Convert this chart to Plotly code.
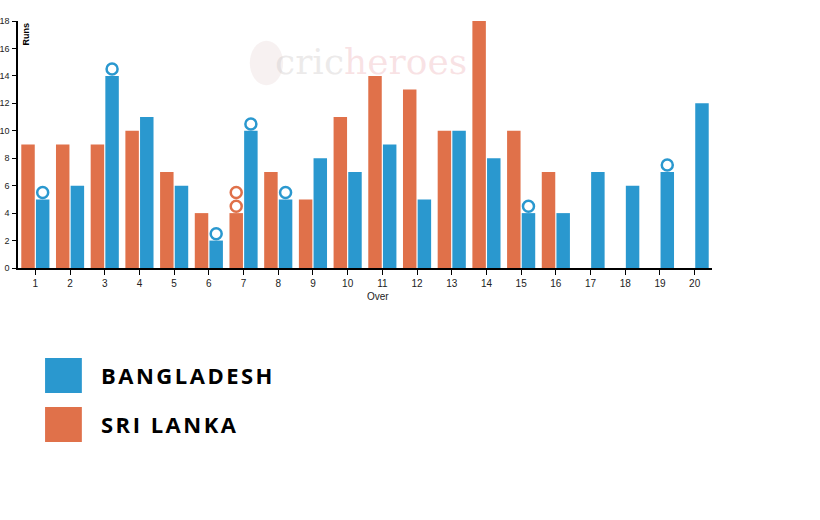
import plotly.graph_objects as go

overs = [str(i) for i in range(1, 21)]
sri_lanka_runs = [9, 9, 9, 10, 7, 4, 4, 7, 5, 11, 14, 13, 10, 18, 10, 7, None, None, None, None]
bangladesh_runs = [5, 6, 14, 11, 6, 2, 10, 5, 8, 7, 9, 5, 10, 8, 4, 4, 7, 6, 7, 12]
# wickets per over (index = over-1)
bangladesh_wickets = [1, 0, 1, 0, 0, 1, 1, 1, 0, 0, 0, 0, 0, 0, 1, 0, 0, 0, 1, 0]
sri_lanka_wickets = [0, 0, 0, 0, 0, 0, 2, 0, 0, 0, 0, 0, 0, 0, 0, 0, 0, 0, 0, 0]

BLUE = "#2A98CF"
ORANGE = "#E0714A"


def wicket_points(runs, wickets):
    xs, ys = [], []
    for o, r, w in zip(overs, runs, wickets):
        for k in range(w):
            xs.append(o)
            ys.append((r or 0) + 0.5 + k)
    return xs, ys


fig = go.Figure()
fig.add_trace(go.Bar(x=overs, y=sri_lanka_runs, name="SRI LANKA", marker_color=ORANGE,
                     offsetgroup="sl", showlegend=False, marker_line_width=0))
fig.add_trace(go.Bar(x=overs, y=bangladesh_runs, name="BANGLADESH", marker_color=BLUE,
                     offsetgroup="bd", showlegend=False, marker_line_width=0))

sx, sy = wicket_points(sri_lanka_runs, sri_lanka_wickets)
bx, by = wicket_points(bangladesh_runs, bangladesh_wickets)
fig.add_trace(go.Scatter(x=sx, y=sy, mode="markers", offsetgroup="sl", showlegend=False,
                         marker=dict(size=11, color="white", line=dict(color=ORANGE, width=2.5))))
fig.add_trace(go.Scatter(x=bx, y=by, mode="markers", offsetgroup="bd", showlegend=False,
                         marker=dict(size=11, color="white", line=dict(color=BLUE, width=2.5))))

axis_font = dict(family="Liberation Sans, Arial", size=10, color="#222")
y_font = dict(family="Liberation Sans, Arial", size=9, color="#222")
fig.update_layout(
    width=820, height=520,
    margin=dict(l=18, r=108, t=21, b=252),
    paper_bgcolor="white", plot_bgcolor="white",
    barmode="group", bargap=0.155, bargroupgap=0.08,
    scattermode="group", scattergap=0.155,
    xaxis=dict(type="category", categoryorder="array", categoryarray=overs,
               showline=True, linecolor="black", linewidth=1.5, automargin=False,
               ticks="outside", ticklen=5, tickcolor="black", tickfont=axis_font,
               showgrid=False, zeroline=False),
    yaxis=dict(range=[0, 18], dtick=2, showline=True, linecolor="black", linewidth=1.5,
               automargin=False, ticklabelstandoff=1,
               ticks="outside", ticklen=4, tickcolor="black", tickfont=y_font,
               showgrid=False, zeroline=False),
)

# x-axis title
fig.add_annotation(text="Over", xref="paper", yref="paper", x=0.519, y=-0.115,
                   xanchor="center", yanchor="middle", showarrow=False, font=axis_font)

# y-axis title
fig.add_annotation(text="<b>Runs</b>", xref="paper", yref="paper", x=0.0, y=1.0,
                   xanchor="left", yanchor="top", textangle=-90, showarrow=False,
                   font=dict(family="Liberation Sans, Arial", size=9, color="black"))

# watermark
fig.add_shape(type="circle", xref="paper", yref="paper", x0=0.334, x1=0.382, y0=0.74, y1=0.92,
              fillcolor="rgba(200,160,160,0.15)", line_width=0, layer="below")
fig.add_annotation(
    text="<span style='color:rgba(200,195,195,0.35)'>cric</span><span style='color:rgba(230,140,150,0.25)'>heroes</span>",
    xref="paper", yref="paper", x=0.508, y=0.835, xanchor="center", yanchor="middle",
    showarrow=False, font=dict(family="DejaVu Serif, serif", size=36))

# custom legend
legend_items = [("BANGLADESH", BLUE, -0.364, -0.506), ("SRI LANKA", ORANGE, -0.563, -0.704)]
for label, color, y1, y0 in legend_items:
    fig.add_shape(type="rect", xref="paper", yref="paper", x0=0.039, x1=0.092, y0=y0, y1=y1,
                  fillcolor=color, line_width=0)
    fig.add_annotation(text=f"<span style='letter-spacing:2.5px'><b>{label}</b></span>",
                       xref="paper", yref="paper", x=0.117, y=(y0 + y1) / 2,
                       xanchor="left", yanchor="middle", showarrow=False,
                       font=dict(family="Open Sans", size=22, color="black"))

fig.write_html("out.html")
